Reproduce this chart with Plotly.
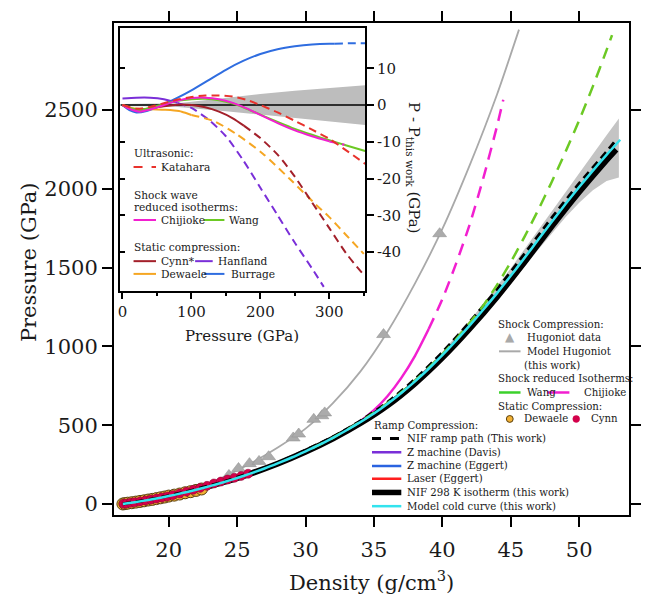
import plotly.graph_objects as go

# ---------------- main panel data (density g/cm3, pressure GPa) ----------------
iso_rho = [16.65, 17, 18, 19, 20, 21, 22, 23, 24, 25, 26, 27, 28, 29, 30, 31, 32, 33, 34, 35,
           36, 37, 38, 39, 40, 41, 42, 43, 44, 45, 46, 47, 48, 49, 50, 51, 52, 53]
iso_p = [0, 4, 18, 33, 50, 69, 90, 113, 138, 165, 194, 225, 259, 295, 334, 375, 420, 468, 519, 574,
         636, 704, 778, 858, 944, 1036, 1133, 1234, 1338, 1448, 1561, 1676, 1791, 1903, 2011, 2115, 2215, 2311]

nif_rho = [16.65, 18, 20, 22, 24, 26, 28, 30, 32, 34, 36, 38, 40, 42, 44, 46, 48, 50, 52, 52.7]
nif_p = [0, 18, 50, 90, 138, 193, 257, 331, 415, 512, 626, 765, 928, 1113, 1315, 1535, 1762, 1980, 2183, 2250]

ramp_rho = [16.65, 20, 24, 28, 32, 34, 36, 38, 40, 42, 44, 46, 48, 50, 52, 52.6]
ramp_p = [0, 52, 141, 263, 426, 527, 646, 792, 962, 1155, 1362, 1587, 1816, 2034, 2235, 2300]

band_rho = [35, 36, 37, 38, 39, 40, 41, 42, 43, 44, 45, 46, 47, 48, 49, 50, 51, 52, 52.9]
band_hi = [582, 646, 716, 793, 876, 966, 1062, 1164, 1270, 1380, 1496, 1616, 1738, 1861, 1982, 2101,
           2219, 2340, 2446]
band_lo = [566, 626, 692, 763, 840, 922, 1010, 1102, 1198, 1296, 1400, 1506, 1613, 1719, 1820, 1911,
           1990, 2050, 2071]

hug_rho = [16.65, 18, 20, 22, 24, 26, 28, 30, 32, 34, 36, 38, 40, 42, 44, 45.6]
hug_p = [0, 20, 52, 100, 170, 258, 360, 478, 640, 840, 1095, 1400, 1745, 2150, 2600, 3010]

hugdat_rho = [24.4, 25.1, 25.9, 26.6, 27.3, 29.1, 29.5, 30.6, 31.2, 31.4, 35.7, 39.8]
hugdat_p = [181, 225, 256, 270, 300, 419, 444, 537, 560, 578, 1075, 1715]

wang_s_rho = [16.65, 18, 20, 22, 24, 26, 28, 30, 30.5]
wang_s_p = [0, 18, 50, 90, 138, 194, 259, 334, 354]
wang_d_rho = [30.5, 32, 34, 36, 38, 40, 41, 42, 43, 44, 45, 46, 47, 48, 49, 50, 51, 52, 52.4]
wang_d_p = [354, 420, 522, 640, 782, 950, 1045, 1150, 1260, 1390, 1535, 1695, 1865, 2045, 2235, 2435,
            2650, 2880, 2975]

chij_s_rho = [16.65, 18, 20, 22, 24, 26, 28, 30, 32, 33, 34, 35, 36, 37, 38, 39]
chij_s_p = [0, 18, 50, 90, 138, 194, 259, 334, 420, 468, 525, 595, 685, 800, 940, 1110]
chij_d_rho = [39, 40, 41, 42, 43, 44, 44.45]
chij_d_p = [1110, 1300, 1525, 1775, 2070, 2400, 2565]

davis_rho = [16.65, 20, 24, 28, 31]
davis_p = [0, 48, 135, 256, 372]
zegg_rho = [16.65, 20, 24, 28, 30]
zegg_p = [0, 48, 136, 257, 332]
laser_rho = [22, 26, 30, 34, 36]
laser_p = [88, 191, 331, 515, 632]

dew_rho = [16.65, 16.8, 17.0, 17.3, 17.6, 17.9, 18.2, 18.5, 18.8, 19.1, 19.4, 19.7, 20.0, 20.4,
           20.8, 21.2, 21.6, 22.0, 22.4]
dew_p = [0, 2, 5, 8, 12, 16, 20, 25, 29, 34, 39, 44, 50, 56, 63, 71, 78, 86, 95]

cynn_rho = [16.7, 16.9, 17.2, 17.5, 17.9, 18.3, 18.7, 19.1, 19.5, 19.9, 20.3, 20.8, 21.3, 21.8,
            22.3, 22.8, 23.3, 23.8, 24.3, 24.8, 25.3, 25.8]
cynn_p = [1, 3, 7, 11, 16, 22, 28, 34, 41, 48, 56, 66, 78, 90, 102, 115, 130, 142, 155, 166, 178, 192]

# ---------------- inset data (pressure GPa, P - P_this work GPa) ----------------
band_in_p = [0, 50, 80, 100, 150, 200, 250, 300, 352]
band_in_hi = [0.3, 0.3, 0.5, 0.9, 2.0, 3.0, 3.9, 4.7, 5.4]
band_in_lo = [-0.3, -0.3, -0.5, -0.9, -1.7, -2.6, -3.6, -4.5, -5.4]

burr_s_p = [0, 10, 20, 35, 50, 60, 80, 100, 125, 150, 175, 200, 225, 250, 275, 300, 308]
burr_s_d = [0, -1.4, -2.0, -1.6, -0.6, 0.2, 2.0, 4.0, 6.8, 9.6, 12.0, 13.9, 15.2, 16.0, 16.5, 16.7, 16.7]
burr_d_p = [308, 330, 352]
burr_d_d = [16.7, 16.8, 16.8]

kata_p = [0, 20, 40, 60, 80, 100, 120, 140, 160, 180, 200, 225, 250, 275, 300, 325, 352]
kata_d = [0, -1.0, -0.5, 0.5, 1.5, 2.2, 2.6, 2.6, 2.3, 1.4, 0.0, -2.0, -4.3, -6.7, -9.2, -12.4, -16.0]

wang_in_p = [0, 10, 25, 40, 60, 80, 100, 120, 140, 160, 180, 200, 225, 250, 275, 300, 325, 352]
wang_in_d = [0, -0.8, -1.3, -0.8, 0.3, 1.2, 1.6, 1.7, 1.3, 0.4, -1.0, -2.6, -4.6, -6.5, -8.1, -9.6, -11.0, -12.5]

chij_in_s_p = [0, 10, 25, 40, 60, 80, 100, 120, 140, 160, 180, 200, 225, 250, 275, 300]
chij_in_s_d = [0, -1.0, -1.8, -1.2, 0.0, 1.2, 1.9, 2.0, 1.6, 0.6, -0.9, -2.7, -4.9, -6.9, -8.5, -9.9]
chij_in_d_p = [300, 322]
chij_in_d_d = [-9.9, -10.8]

cynn_in_s_p = [0, 10, 25, 40, 60, 80, 100, 120, 140, 160, 176]
cynn_in_s_d = [0, -0.9, -1.3, -0.9, -0.3, 0.1, 0.0, -0.6, -1.8, -3.6, -5.6]
cynn_in_d_p = [176, 200, 225, 250, 275, 300, 325, 352]
cynn_in_d_d = [-5.6, -9.0, -13.5, -19.5, -26.5, -33.5, -40.5, -46.7]

dew_in_s_p = [0, 15, 30, 50, 62, 75, 86, 100]
dew_in_s_d = [0, -0.9, -1.1, -1.2, -1.3, -1.5, -1.8, -2.7]
dew_in_d_p = [100, 133, 166, 204, 242, 280, 300, 325, 350]
dew_in_d_d = [-2.7, -4.4, -8.0, -13.3, -20.0, -27.0, -30.5, -35.5, -40.5]

hanf_in_s_p = [0, 20, 40, 60, 80]
hanf_in_s_d = [1.8, 2.0, 2.0, 1.6, 0.6]
hanf_in_d_p = [80, 100, 125, 150, 175, 200, 225, 250, 275, 292]
hanf_in_d_d = [0.6, -0.8, -4.0, -8.5, -15.0, -22.5, -30.0, -37.5, -44.5, -49.5]

# ---------------- tick labels ----------------
x_ticks = [20, 25, 30, 35, 40, 45, 50]
y_ticks = [0, 500, 1000, 1500, 2000, 2500]
xin_ticks = [0, 100, 200, 300]
yin_ticks = [10, 0, -10, -20, -30, -40]
yin_labels = ['10', '0', '-10', '-20', '-30', '-40']

# ---------------- layout geometry (pixels) ----------------
W, H = 652, 597
L, R, T, B = 114, 641, 13, 515
X_RANGE = [16.0, 53.64]
Y_RANGE = [-70, 3052]
XIN_RANGE = [-3.1, 352]
YIN_RANGE = [-50.5, 21]


def X(px):
    return (px - L) / (R - L)


def Y(py):
    return (B - py) / (B - T)


SERIF = 'DejaVu Serif'

C_CYAN = '#33e3ee'
C_GREEN = '#6cc924'
C_GREEN_L = '#3bd12b'
C_MAG = '#f21fd0'
C_GRAY = '#a9a9a9'
C_DAVIS = '#7a2fd8'
C_ZEGG = '#2a63e0'
C_LASER = '#ff1e1e'
C_DEW = '#f2b134'
C_CYNN = '#d3004a'
C_KATA = '#e8322c'
C_CYNN_IN = '#a3202a'
C_DEW_IN = '#f5a623'
C_HANF = '#7a2fd8'
C_BURR = '#2f6de0'

fig = go.Figure()


def line(x, y, color, width, dash='solid', xa='x', ya='y'):
    fig.add_trace(go.Scatter(x=x, y=y, mode='lines', xaxis=xa, yaxis=ya, showlegend=False,
                             hoverinfo='skip', line=dict(color=color, width=width, dash=dash, shape='spline',
                                                         smoothing=0.7)))


# main band
fig.add_trace(go.Scatter(x=band_rho + band_rho[::-1], y=band_hi + band_lo[::-1], fill='toself',
                         fillcolor='#c4c4c4', line=dict(width=0), mode='lines', showlegend=False,
                         hoverinfo='skip'))
line(hug_rho, hug_p, C_GRAY, 1.8)
fig.add_trace(go.Scatter(x=hugdat_rho, y=hugdat_p, mode='markers', showlegend=False, hoverinfo='skip',
                         marker=dict(symbol='triangle-up', size=12, color='#ababab',
                                     line=dict(color='#959595', width=0.6))))
line(davis_rho, davis_p, C_DAVIS, 2.5)
line(zegg_rho, zegg_p, C_ZEGG, 2.5)
line(laser_rho, laser_p, C_LASER, 2.5)
line(wang_s_rho, wang_s_p, C_GREEN_L, 2.5)
line(chij_s_rho, chij_s_p, C_MAG, 2.5)
line(nif_rho, nif_p, 'black', 6)
fig.add_trace(go.Scatter(x=dew_rho, y=dew_p, mode='markers', showlegend=False, hoverinfo='skip',
                         marker=dict(symbol='circle', size=12, color=C_DEW,
                                     line=dict(color='#5a4010', width=1))))
fig.add_trace(go.Scatter(x=cynn_rho, y=cynn_p, mode='markers', showlegend=False, hoverinfo='skip',
                         marker=dict(symbol='circle', size=9, color=C_CYNN,
                                     line=dict(color='#8a0030', width=0.5))))
line(ramp_rho, ramp_p, 'black', 3, dash='8px,5px')
line(wang_d_rho, wang_d_p, C_GREEN, 2.5, dash='12px,8px')
line(chij_d_rho, chij_d_p, C_MAG, 2.5, dash='12px,8px')
line(iso_rho, iso_p, C_CYAN, 2.5)

# inset
IA = dict(xa='x2', ya='y2')
fig.add_trace(go.Scatter(x=band_in_p + band_in_p[::-1], y=band_in_hi + band_in_lo[::-1], fill='toself',
                         fillcolor='#bdbdbd', line=dict(width=0), mode='lines', showlegend=False,
                         hoverinfo='skip', xaxis='x2', yaxis='y2'))
fig.add_trace(go.Scatter(x=XIN_RANGE, y=[0, 0], mode='lines', line=dict(color='black', width=1.5),
                         showlegend=False, hoverinfo='skip', xaxis='x2', yaxis='y2'))
DSH = '8px,5px'
line(burr_s_p, burr_s_d, C_BURR, 2, **IA)
line(burr_d_p, burr_d_d, C_BURR, 2, dash=DSH, **IA)
line(hanf_in_s_p, hanf_in_s_d, C_HANF, 2, **IA)
line(hanf_in_d_p, hanf_in_d_d, C_HANF, 2, dash=DSH, **IA)
line(dew_in_s_p, dew_in_s_d, C_DEW_IN, 2, **IA)
line(dew_in_d_p, dew_in_d_d, C_DEW_IN, 2, dash=DSH, **IA)
line(cynn_in_s_p, cynn_in_s_d, C_CYNN_IN, 2, **IA)
line(cynn_in_d_p, cynn_in_d_d, C_CYNN_IN, 2, dash=DSH, **IA)
line(wang_in_p, wang_in_d, C_GREEN, 2, **IA)
line(chij_in_s_p, chij_in_s_d, C_MAG, 2, **IA)
line(chij_in_d_p, chij_in_d_d, C_MAG, 2, dash=DSH, **IA)
line(kata_p, kata_d, C_KATA, 2, dash=DSH, **IA)
# carrier for inward left ticks of the inset
fig.add_trace(go.Scatter(x=[XIN_RANGE[0]], y=[0], mode='markers', marker=dict(opacity=0),
                         xaxis='x2', yaxis='y3', showlegend=False, hoverinfo='skip'))

# ---------------- annotations / legend decorations ----------------
ann = []
shapes = []
LEG = 10.2
LEG_IN = 10.6


def text(px, py, s, size=LEG, anchor='left', color='#1a1a1a', angle=0):
    ann.append(dict(x=X(px), y=Y(py), xref='paper', yref='paper', text=s, showarrow=False,
                    xanchor=anchor, yanchor='middle', textangle=angle,
                    font=dict(family=SERIF, size=size, color=color)))


def swatch(x0, x1, py, color, width=2.5, dash='solid'):
    shapes.append(dict(type='line', xref='paper', yref='paper', x0=X(x0), x1=X(x1), y0=Y(py), y1=Y(py),
                       line=dict(color=color, width=width, dash=dash), layer='above'))


def dot(px, py, r, color, lc, lw):
    shapes.append(dict(type='circle', xref='paper', yref='paper', x0=X(px - r), x1=X(px + r),
                       y0=Y(py + r), y1=Y(py - r), fillcolor=color, line=dict(color=lc, width=lw),
                       layer='above'))


# main legend, right block
text(505, 321, 'Shock Compression:')
ann.append(dict(x=X(519), y=Y(333), xref='paper', yref='paper', text='▲', showarrow=False,
                xanchor='center', yanchor='middle', font=dict(family='DejaVu Sans', size=12, color=C_GRAY)))
text(535, 334, 'Hugoniot data')
swatch(508, 530, 348, C_GRAY, 2)
text(535, 348, 'Model Hugoniot')
text(532, 362, '(this work)')
text(505, 376, 'Shock reduced Isotherms:')
swatch(508, 530, 390, C_GREEN_L, 2.5)
text(535, 390, 'Wang')
swatch(557, 580, 390, C_MAG, 2.5)
text(593, 390, 'Chijioke')
text(505, 404, 'Static Compression:')
dot(519, 417, 3.5, C_DEW, '#5a4010', 1)
text(531, 417, 'Dewaele')
dot(587, 417, 3.5, C_CYNN, C_CYNN, 0.5)
text(600, 417, 'Cynn')

# main legend, ramp block
text(378, 424, 'Ramp Compression:')
swatch(378, 408, 437, 'black', 3, dash='dash')
text(412, 437, 'NIF ramp path (This work)')
swatch(378, 408, 451, C_DAVIS, 2.5)
text(412, 451, 'Z machine (Davis)')
swatch(378, 408, 465, C_ZEGG, 2.5)
text(412, 465, 'Z machine (Eggert)')
swatch(378, 408, 478, C_LASER, 2.5)
text(412, 478, 'Laser (Eggert)')
swatch(378, 408, 492, 'black', 5.5)
text(412, 492, 'NIF 298 K isotherm (this work)')
swatch(378, 408, 506, C_CYAN, 2.5)
text(412, 506, 'Model cold curve (this work)')

# inset legend
text(132, 146, 'Ultrasonic:', size=LEG_IN)
swatch(134, 157, 160, C_KATA, 2, dash='dash')
text(160, 160, 'Katahara', size=LEG_IN)
text(132, 188, 'Shock wave', size=LEG_IN)
text(132, 201, 'reduced isotherms:', size=LEG_IN)
swatch(134, 157, 214, C_MAG, 2)
text(160, 214, 'Chijioke', size=LEG_IN)
swatch(206, 227, 214, C_GREEN, 2)
text(230, 214, 'Wang', size=LEG_IN)
text(132, 242, 'Static compression:', size=LEG_IN)
swatch(134, 157, 256, C_CYNN_IN, 2)
text(160, 256, 'Cynn*', size=LEG_IN)
swatch(197, 215, 256, C_HANF, 2)
text(218, 256, 'Hanfland', size=LEG_IN)
swatch(134, 157, 269, C_DEW_IN, 2)
text(160, 269, 'Dewaele', size=LEG_IN)
swatch(206, 227, 269, C_BURR, 2)
text(232, 269, 'Burrage', size=LEG_IN)

# axis titles
text(378, 582, 'Density (g/cm<sup>3</sup>)', size=21, anchor='center')
text(27, 257, 'Pressure (GPa)', size=21, anchor='center', angle=-90)
text(245, 332, 'Pressure (GPa)', size=15, anchor='center')
text(421, 160, 'P - P<sub>this work</sub> (GPa)', size=15, anchor='center', angle=90)

axis_common = dict(showgrid=False, zeroline=False, showline=True, linecolor='black', ticks='outside',
                   tickcolor='black')

fig.update_layout(
    width=W, height=H, margin=dict(l=L, r=W - R, t=T, b=H - B),
    paper_bgcolor='white', plot_bgcolor='white', showlegend=False,
    xaxis=dict(**axis_common, range=X_RANGE, tickvals=x_ticks, linewidth=2, tickwidth=2, ticklen=10,
               mirror='ticks', ticklabelstandoff=5,
               tickfont=dict(family=SERIF, size=21, color='#1a1a1a'), domain=[0, 1]),
    yaxis=dict(**axis_common, range=Y_RANGE, tickvals=y_ticks, linewidth=2, tickwidth=2, ticklen=10,
               mirror='ticks', tickfont=dict(family=SERIF, size=21, color='#1a1a1a'), domain=[0, 1]),
    xaxis2=dict(**axis_common, range=XIN_RANGE, tickvals=xin_ticks, linewidth=1.5, tickwidth=1.5, ticklen=7,
                mirror=True, anchor='y2', domain=[X(120.5), X(371)],
                minor=dict(dtick=50, tick0=0, ticks='outside', ticklen=4, tickwidth=1.5, tickcolor='black'),
                tickfont=dict(family=SERIF, size=15, color='#1a1a1a')),
    yaxis2=dict(**axis_common, range=YIN_RANGE, tickvals=yin_ticks, ticktext=yin_labels, side='right',
                linewidth=1.5, tickwidth=1.5, ticklen=7, mirror=True, anchor='x2',
                domain=[Y(286), Y(18)], tickfont=dict(family=SERIF, size=15, color='#1a1a1a')),
    yaxis3=dict(showgrid=False, zeroline=False, showline=False, overlaying='y2', anchor='x2', side='left',
                range=YIN_RANGE, tickvals=[10, -10, -20, -30, -40], ticks='inside', ticklen=5,
                tickwidth=1.5, tickcolor='black', showticklabels=False),
    annotations=ann, shapes=shapes,
)

fig.write_html('out.html')
